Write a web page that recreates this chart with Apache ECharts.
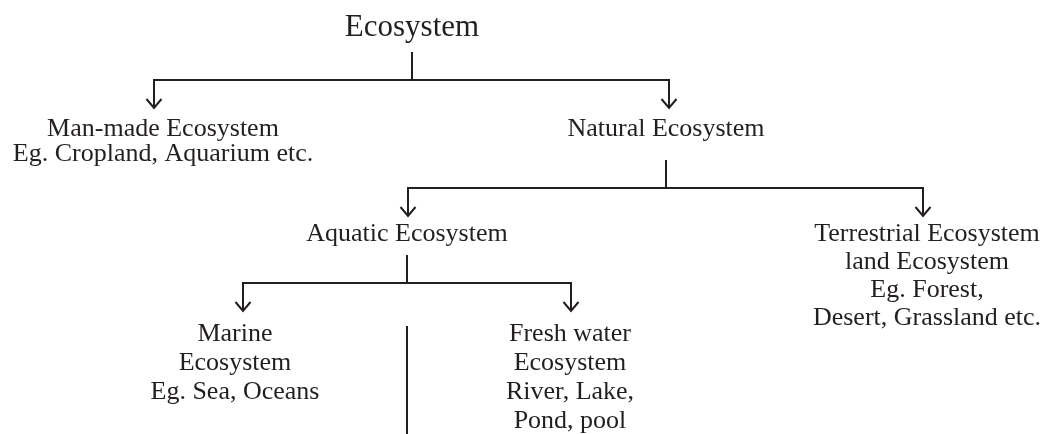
<!DOCTYPE html>
<html>
<head>
<meta charset="utf-8">
<script src="https://cdn.jsdelivr.net/npm/echarts@6/dist/echarts.min.js"></script>
<style>
  html, body { margin: 0; padding: 0; background: #fff; }
  #chart { width: 1046px; height: 434px; }
</style>
</head>
<body>
<div id="chart"></div>
<script>
// tree content
const nodeNames = [
  "Ecosystem",
  "Man-made Ecosystem\nEg. Cropland, Aquarium etc.",
  "Natural Ecosystem",
  "Aquatic Ecosystem",
  "Terrestrial Ecosystem\nland Ecosystem\nEg. Forest,\nDesert, Grassland etc.",
  "Marine\nEcosystem\nEg. Sea, Oceans",
  "Fresh water\nEcosystem\nRiver, Lake,\nPond, pool"
];
const parentOf = [-1, 0, 0, 2, 2, 3, 3];
const levelOf = [0, 1, 1, 2, 2, 3, 3];

// layout (pixel units of the hidden axes)
const labelX = [412, 163, 666, 407, 927, 235, 570];
const arrowX = [412, 154, 669, 408, 923, 243, 571];
const stubX = [412, 154, 666, 407, 923, 243, 571];
const levelBaseline = [38, 138, 243, 343];
const barY = [80, 188, 283];
const fontSizes = [31, 26, 26, 26, 26, 26, 26];
const lineHeights = [31, 25, 28, 28, 28, 29, 29];
const strayLine = [[407, 326], [407, 434]];

const ink = "#231f20";
const chart = echarts.init(document.getElementById("chart"));

const links = [];
for (let i = 0; i < parentOf.length; i++) {
  if (parentOf[i] >= 0) links.push(i);
}

const renderLink = (params, api) => {
  const c = links[params.dataIndex];
  const p = parentOf[c];
  const bar = barY[levelOf[p]];
  const p1 = api.coord([stubX[p], bar - 28]);
  const p2 = api.coord([stubX[p], bar]);
  const p3 = api.coord([arrowX[c], bar]);
  const tip = api.coord([arrowX[c], bar + 28]);
  const style = { stroke: ink, lineWidth: 2, fill: null };
  return {
    type: "group",
    children: [
      { type: "polyline", shape: { points: [p1, p2, p3, tip] }, style: style },
      {
        type: "polyline",
        shape: { points: [[tip[0] - 7.5, tip[1] - 9], tip, [tip[0] + 7.5, tip[1] - 9]] },
        style: style
      }
    ]
  };
};

const renderLabel = (params, api) => {
  const i = params.dataIndex;
  const fs = fontSizes[i];
  const lh = lineHeights[i];
  const pt = api.coord([labelX[i], levelBaseline[levelOf[i]]]);
  return {
    type: "text",
    x: pt[0],
    y: pt[1] - lh / 2 - 0.34 * fs,
    style: {
      text: nodeNames[i],
      fontFamily: "Liberation Serif",
      fontSize: fs,
      lineHeight: lh,
      fill: ink,
      align: "center",
      verticalAlign: "top"
    }
  };
};

const option = {
  animation: false,
  grid: { left: 0, right: 0, top: 0, bottom: 0 },
  xAxis: { type: "value", min: 0, max: 1046, show: false },
  yAxis: { type: "value", min: 0, max: 434, inverse: true, show: false },
  series: [
    {
      type: "custom",
      clip: false,
      renderItem: renderLink,
      data: links.map((c) => [arrowX[c], barY[levelOf[parentOf[c]]]])
    },
    {
      type: "custom",
      clip: false,
      renderItem: renderLabel,
      data: nodeNames.map((n, i) => [labelX[i], levelBaseline[levelOf[i]]])
    },
    {
      type: "line",
      showSymbol: false,
      silent: true,
      lineStyle: { color: ink, width: 2 },
      data: strayLine
    }
  ]
};
chart.setOption(option);
</script>
</body>
</html>
